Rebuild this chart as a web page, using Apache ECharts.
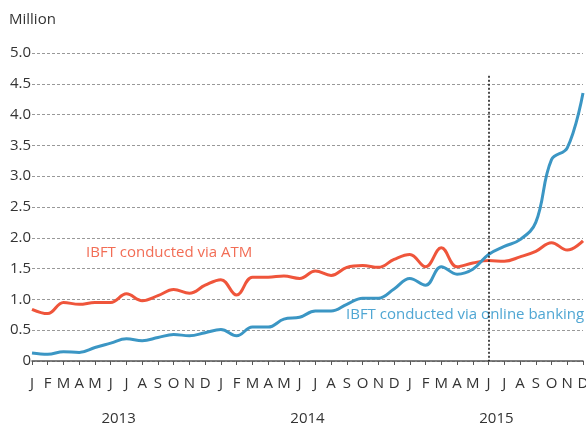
<!DOCTYPE html>
<html>
<head>
<meta charset="utf-8">
<script src="https://cdn.jsdelivr.net/npm/echarts@6/dist/echarts.min.js"></script>
<style>
  html, body { margin: 0; padding: 0; background: #fff; }
  #main { width: 586px; height: 424px; }
</style>
</head>
<body>
<div id="main"></div>
<script>
// month letters, three years
var months = ['J','F','M','A','M','J','J','A','S','O','N','D',
              'J','F','M','A','M','J','J','A','S','O','N','D',
              'J','F','M','A','M','J','J','A','S','O','N','D'];
var years = ['2013', '2014', '2015'];
var yearPos = [5.5, 17.5, 29.5];

// million transactions
var viaAtm = [0.84, 0.77, 0.95, 0.92, 0.95, 0.95, 1.09, 0.98, 1.06, 1.16, 1.10, 1.23,
              1.32, 1.07, 1.36, 1.36, 1.38, 1.34, 1.46, 1.39, 1.52, 1.55, 1.52, 1.65,
              1.73, 1.53, 1.84, 1.53, 1.59, 1.63, 1.62, 1.69, 1.78, 1.92, 1.80, 1.95];
var viaOnline = [0.13, 0.11, 0.15, 0.14, 0.22, 0.29, 0.36, 0.33, 0.38, 0.43, 0.41, 0.46,
                 0.51, 0.41, 0.55, 0.55, 0.68, 0.71, 0.81, 0.81, 0.92, 1.02, 1.02, 1.17,
                 1.34, 1.23, 1.53, 1.41, 1.49, 1.73, 1.86, 1.97, 2.25, 3.27, 3.46, 4.35];

var markerMonth = 29; // June 2015

var font = '"Open Sans", "Noto Sans", sans-serif';

var myChart = echarts.init(document.getElementById('main'));

myChart.setOption({
    animation: false,
    textStyle: { fontFamily: font },
    grid: { left: 32, right: 3, top: 53, bottom: 63, outerBoundsMode: 'none' },
    xAxis: [
        {
            type: 'category',
            data: months,
            boundaryGap: false,
            axisLine: { lineStyle: { color: '#555', width: 1.5 } },
            axisTick: { alignWithLabel: true, length: 4, lineStyle: { color: '#555' } },
            axisLabel: { color: '#333', fontSize: 15, margin: 15, interval: 0, fontFamily: font },
            splitLine: { show: false }
        },
        {
            type: 'value',
            position: 'bottom',
            min: 0,
            max: months.length - 1,
            axisLine: { show: false },
            axisTick: { show: false },
            splitLine: { show: false },
            axisLabel: {
                customValues: yearPos,
                color: '#333',
                fontSize: 15,
                margin: 50,
                fontFamily: font,
                formatter: function (v) {
                    return years[yearPos.indexOf(v)];
                }
            }
        }
    ],
    yAxis: {
        type: 'value',
        min: 0,
        max: 5,
        interval: 0.5,
        axisLine: { show: false },
        axisTick: { show: false },
        axisLabel: {
            color: '#333',
            fontSize: 15,
            margin: 1,
            fontFamily: font,
            formatter: function (v) { return v === 0 ? '0' : v.toFixed(1); }
        },
        splitLine: { lineStyle: { color: '#999', type: [3, 2], width: 1 } }
    },
    series: [
        {
            name: 'IBFT conducted via ATM',
            type: 'line',
            data: viaAtm,
            smooth: 0.4,
            symbol: 'none',
            lineStyle: { color: '#ef553b', width: 3 }
        },
        {
            name: 'IBFT conducted via online banking',
            type: 'line',
            data: viaOnline,
            smooth: 0.4,
            symbol: 'none',
            lineStyle: { color: '#3b96c4', width: 3 },
            markLine: {
                silent: true,
                symbol: 'none',
                label: { show: false },
                lineStyle: { color: '#111', type: [2, 2], width: 1.5 },
                data: [[{ coord: [markerMonth, 4.63] }, { coord: [markerMonth, 0] }]]
            }
        }
    ],
    graphic: [
        { type: 'text', left: 9, top: 12, style: { text: 'Million', font: '15px ' + font, fill: '#333' } },
        { type: 'text', left: 86, top: 245, style: { text: 'IBFT conducted via ATM', font: '15px ' + font, fill: '#f26d55' } },
        { type: 'text', left: 346, top: 307, style: { text: 'IBFT conducted via online banking', font: '15px ' + font, fill: '#4fa6d3' } }
    ]
});
</script>
</body>
</html>
